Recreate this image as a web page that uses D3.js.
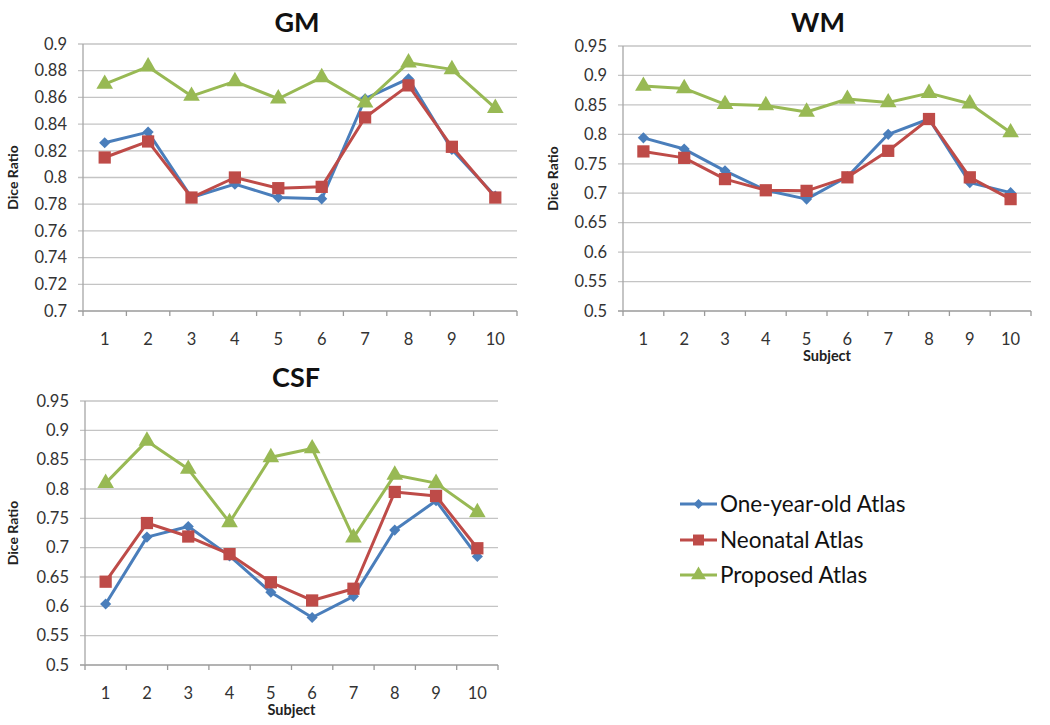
<!DOCTYPE html>
<html><head><meta charset="utf-8">
<script src="https://cdn.jsdelivr.net/npm/d3@7"></script>
<style>body{margin:0;background:#fff}svg{display:block}</style>
</head><body>
<svg id="c" width="1050" height="725"></svg>
<script>
const subjects = ["1","2","3","4","5","6","7","8","9","10"];
const seriesNames = ["One-year-old Atlas","Neonatal Atlas","Proposed Atlas"];

const gmOneYear  = [0.826,0.834,0.785,0.795,0.785,0.784,0.859,0.874,0.821,0.786];
const gmNeonatal = [0.815,0.827,0.785,0.800,0.792,0.793,0.845,0.869,0.823,0.785];
const gmProposed = [0.870,0.883,0.861,0.872,0.859,0.875,0.856,0.886,0.881,0.852];

const wmOneYear  = [0.794,0.775,0.738,0.705,0.690,0.728,0.800,0.826,0.718,0.701];
const wmNeonatal = [0.771,0.760,0.724,0.705,0.704,0.727,0.772,0.826,0.727,0.690];
const wmProposed = [0.882,0.878,0.851,0.849,0.838,0.860,0.854,0.870,0.852,0.803];

const csfOneYear  = [0.604,0.718,0.736,0.686,0.624,0.581,0.617,0.730,0.780,0.685];
const csfNeonatal = [0.642,0.742,0.719,0.689,0.641,0.610,0.630,0.795,0.788,0.699];
const csfProposed = [0.810,0.882,0.834,0.743,0.854,0.869,0.717,0.824,0.810,0.760];

const gmTicks  = [0.7,0.72,0.74,0.76,0.78,0.8,0.82,0.84,0.86,0.88,0.9];
const wmTicks  = [0.5,0.55,0.6,0.65,0.7,0.75,0.8,0.85,0.9,0.95];
const csfTicks = [0.5,0.55,0.6,0.65,0.7,0.75,0.8,0.85,0.9,0.95];

const colors = ["#4a7ebb","#be4b48","#98b954"];
const symbols = [d3.symbolSquare, d3.symbolSquare, d3.symbolTriangle];
const symRot = [45, 0, 0];
const symSizes = [62, 150, 120];

const panels = [
  {title:"GM", series:[gmOneYear,gmNeonatal,gmProposed], ticks:gmTicks,
   x0:83, x1:517, y0:44, y1:311, titleX:297, titleY:32, ylabX:13, xlab:null},
  {title:"WM", series:[wmOneYear,wmNeonatal,wmProposed], ticks:wmTicks,
   x0:623, x1:1031, y0:46, y1:311, titleX:818, titleY:32, ylabX:553, xlab:"Subject"},
  {title:"CSF", series:[csfOneYear,csfNeonatal,csfProposed], ticks:csfTicks,
   x0:85, x1:498, y0:401, y1:665, titleX:296, titleY:387, ylabX:13, xlab:"Subject"}
];

const svg = d3.select("#c");
const FONT = "Lato, 'Open Sans', sans-serif";

panels.forEach(p => {
  const g = svg.append("g");
  const x = d3.scaleBand().domain(subjects).range([p.x0, p.x1]).padding(0);
  const y = d3.scaleLinear().domain([d3.min(p.ticks), d3.max(p.ticks)]).range([p.y1, p.y0]);

  g.append("g").selectAll("line").data(p.ticks).join("line")
    .attr("x1", p.x0 - 5).attr("x2", p.x1)
    .attr("y1", d => y(d)).attr("y2", d => y(d))
    .attr("stroke", d => d === d3.min(p.ticks) ? "#9a9a9a" : "#c4c4c4")
    .attr("stroke-width", 1.3);

  g.append("line").attr("x1", p.x0).attr("x2", p.x0).attr("y1", p.y0).attr("y2", p.y1)
    .attr("stroke", "#a6a6a6").attr("stroke-width", 1.3);

  const edges = subjects.map(s => x(s)).concat([p.x1]);
  g.append("g").selectAll("line").data(edges).join("line")
    .attr("x1", d => d).attr("x2", d => d).attr("y1", p.y1).attr("y2", p.y1 + 5)
    .attr("stroke", "#9a9a9a").attr("stroke-width", 1.3);

  g.append("g").selectAll("text").data(p.ticks).join("text")
    .attr("x", p.x0 - 16).attr("y", d => y(d)).attr("dy", "0.35em")
    .attr("text-anchor", "end").attr("font-family", FONT).attr("font-size", 16.5)
    .attr("fill", "#333").text(d => String(+d.toFixed(2)));

  g.append("g").selectAll("text").data(subjects).join("text")
    .attr("x", d => x(d) + x.bandwidth()/2).attr("y", p.y1 + 28).attr("dy", "0.35em")
    .attr("text-anchor", "middle").attr("font-family", FONT).attr("font-size", 16.5)
    .attr("fill", "#333").text(d => d);

  g.append("text").attr("x", p.titleX).attr("y", p.titleY).attr("text-anchor", "middle")
    .attr("font-family", FONT).attr("font-weight", "bold").attr("font-size", 27)
    .attr("fill", "#111").text(p.title);

  const cy = (p.y0 + p.y1) / 2;
  g.append("text").attr("transform", `translate(${p.ylabX},${cy}) rotate(-90)`)
    .attr("dy", "0.35em").attr("text-anchor", "middle")
    .attr("font-family", FONT).attr("font-weight", "bold").attr("font-size", 14)
    .attr("fill", "#222").text("Dice Ratio");

  if (p.xlab) {
    g.append("text").attr("x", (p.x0 + p.x1) / 2).attr("y", p.y1 + 45).attr("dy", "0.35em")
      .attr("text-anchor", "middle").attr("font-family", FONT).attr("font-weight", "bold")
      .attr("font-size", 14.5).attr("fill", "#222").text(p.xlab);
  }

  const line = d3.line().x((d, i) => x(subjects[i]) + x.bandwidth()/2).y(d => y(d));
  p.series.forEach((vals, si) => {
    g.append("path").datum(vals).attr("d", line).attr("fill", "none")
      .attr("stroke", colors[si]).attr("stroke-width", 3).attr("stroke-linejoin", "round");
    g.append("g").selectAll("path").data(vals).join("path")
      .attr("transform", (d, i) => `translate(${x(subjects[i]) + x.bandwidth()/2},${y(d)}) rotate(${symRot[si]})`)
      .attr("d", d3.symbol().type(symbols[si]).size(symSizes[si]))
      .attr("fill", colors[si]);
  });
});

const legY = [504, 540, 575];
const leg = svg.append("g");
seriesNames.forEach((name, i) => {
  leg.append("line").attr("x1", 680).attr("x2", 717).attr("y1", legY[i]).attr("y2", legY[i])
    .attr("stroke", colors[i]).attr("stroke-width", 3);
  leg.append("path").attr("transform", `translate(698.5,${legY[i]}) rotate(${symRot[i]})`)
    .attr("d", d3.symbol().type(symbols[i]).size(symSizes[i] * 0.8)).attr("fill", colors[i]);
  leg.append("text").attr("x", 720).attr("y", legY[i]).attr("dy", "0.35em")
    .attr("font-family", FONT).attr("font-size", 22.5).attr("fill", "#111").text(name);
});
</script>
</body></html>
